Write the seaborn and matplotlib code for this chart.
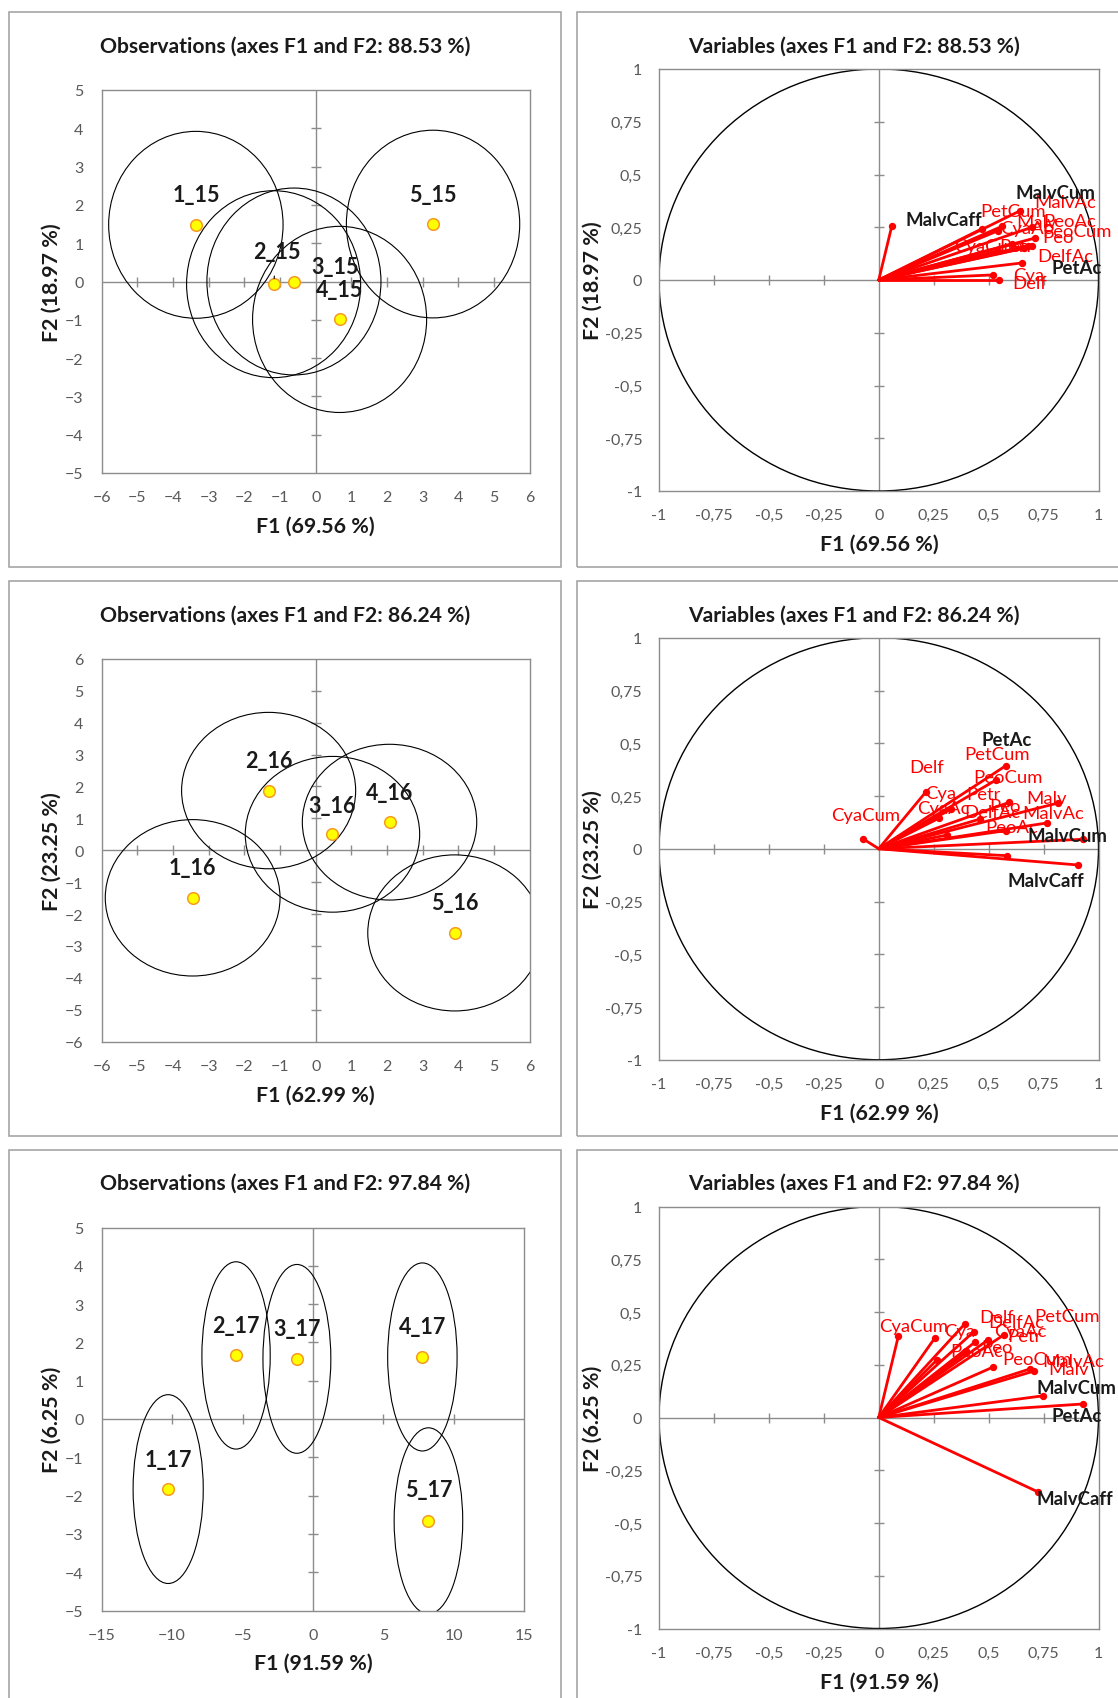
import numpy as np
import pandas as pd
import matplotlib
matplotlib.use("Agg")
import matplotlib.pyplot as plt
import seaborn as sns
from matplotlib.patches import Ellipse, Rectangle

sns.set_theme(style="white")
plt.rcParams["font.family"] = ["Lato", "DejaVu Sans"]

# ---------------- DATA ----------------
# Observations (PCA scores)
obs_15 = ["1_15", "2_15", "3_15", "4_15", "5_15"]
f1_15 = [-3.36, -1.18, -0.61, 0.67, 3.29]
f2_15 = [1.48, -0.07, 0.00, -0.99, 1.50]
ell_w_15 = [4.89, 4.88, 4.88, 4.88, 4.86]
ell_h_15 = [4.88, 4.88, 4.88, 4.86, 4.90]

obs_16 = ["1_16", "2_16", "3_16", "4_16", "5_16"]
f1_16 = [-3.45, -1.32, 0.47, 2.07, 3.90]
f2_16 = [-1.49, 1.87, 0.50, 0.88, -2.59]
ell_w_16 = [4.90, 4.88, 4.89, 4.89, 4.88]
ell_h_16 = [4.90, 4.90, 4.88, 4.88, 4.89]

obs_17 = ["1_17", "2_17", "3_17", "4_17", "5_17"]
f1_17 = [-10.28, -5.46, -1.14, 7.77, 8.20]
f2_17 = [-1.83, 1.66, 1.57, 1.62, -2.66]
ell_w_17 = [4.98, 4.85, 4.82, 4.93, 4.87]
ell_h_17 = [4.93, 4.89, 4.93, 4.91, 4.86]

# Variables (correlation circle loadings)
variables = ["Delf", "Cya", "Petr", "Peo", "Malv", "DelfAc", "CyaAc", "PetAc",
             "PeoAc", "MalvAc", "CyaCum", "PetCum", "PeoCum", "MalvCum", "MalvCaff"]
highlighted = ["PetAc", "MalvCum", "MalvCaff"]

v1_15 = [0.549, 0.518, 0.660, 0.605, 0.544, 0.653, 0.468, 0.696,
         0.711, 0.696, 0.544, 0.560, 0.681, 0.643, 0.059]
v2_15 = [0.000, 0.024, 0.150, 0.171, 0.234, 0.081, 0.242, 0.160,
         0.199, 0.250, 0.139, 0.254, 0.163, 0.328, 0.254]

v1_16 = [0.215, 0.276, 0.462, 0.580, 0.764, 0.330, 0.309, 0.579,
         0.585, 0.817, -0.070, 0.534, 0.594, 0.930, 0.908]
v2_16 = [0.270, 0.146, 0.141, 0.086, 0.122, 0.188, 0.065, 0.394,
         -0.033, 0.217, 0.046, 0.326, 0.220, 0.045, -0.077]

v1_17 = [0.391, 0.254, 0.499, 0.397, 0.706, 0.433, 0.440, 0.928,
         0.266, 0.688, 0.089, 0.570, 0.518, 0.749, 0.725]
v2_17 = [0.443, 0.375, 0.369, 0.309, 0.220, 0.407, 0.359, 0.064,
         0.274, 0.230, 0.385, 0.392, 0.238, 0.103, -0.353]

# Axis texts
titles_obs = ["Observations (axes F1 and F2: 88.53 %)",
              "Observations (axes F1 and F2: 86.24 %)",
              "Observations (axes F1 and F2: 97.84 %)"]
titles_var = ["Variables (axes F1 and F2: 88.53 %)",
              "Variables (axes F1 and F2: 86.24 %)",
              "Variables (axes F1 and F2: 97.84 %)"]
xlabels = ["F1 (69.56 %)", "F1 (62.99 %)", "F1 (91.59 %)"]
ylabels = ["F2 (18.97 %)", "F2 (23.25 %)", "F2 (6.25 %)"]

obs_xticks = [list(range(-6, 7)), list(range(-6, 7)), list(range(-15, 16, 5))]
obs_yticks = [list(range(-5, 6)), list(range(-6, 7)), list(range(-5, 6))]
var_ticks = [-1, -0.75, -0.5, -0.25, 0, 0.25, 0.5, 0.75, 1]
var_ticklabels = ["-1", "-0,75", "-0,5", "-0,25", "0", "0,25", "0,5", "0,75", "1"]

# ---------------- LAYOUT (pixels) ----------------
W, H = 1118, 1699
ROW = 568.75
PX2PT = 0.72

obs_label_off = [
    {"1_15": (0, 30), "2_15": (3, 33), "3_15": (41, 15), "4_15": (0, 30), "5_15": (0, 30)},
    {"1_16": (0, 30), "2_16": (0, 30), "3_16": (0, 29), "4_16": (0, 30), "5_16": (0, 30)},
    {"1_17": (0, 30), "2_17": (0, 30), "3_17": (0, 30), "4_17": (0, 30), "5_17": (0, 31)},
]
obs_leader = [["2_15"], [], []]

var_label_off = [
    {"MalvCaff": (51.6, 6.7), "MalvCum": (35, 18.5), "MalvAc": (33.3, 25), "Malv": (38.4, 8.3),
     "PeoAc": (35, 17.3), "CyaAc": (45, 0.6), "PetCum": (11.5, 15.7), "PeoCum": (48.3, 15),
     "Peo": (46.6, 6.6), "CyaCum": (-10, 4.4), "Petr": (-7, 2), "DelfAc": (42.7, 6.6),
     "PetAc": (45, -21), "Cya": (35.7, 0), "Delf": (30.6, -3)},
    {"CyaCum": (2.3, 24.3), "Delf": (0.7, 24.5), "Cya": (1.3, 24.9), "CyaAc": (-3.4, 26.7),
     "Petr": (3, 25), "DelfAc": (41.4, -3), "PetCum": (0.6, 25.9), "PetAc": (0.7, 26.6),
     "PeoCum": (-1, 25), "Peo": (-1.2, 24.3), "PeoAc": (4.4, 28.4), "Malv": (0, 24.7),
     "MalvAc": (-5, -10.4), "MalvCum": (-15.8, 3.5), "MalvCaff": (-32.6, -15.7)},
    {"CyaCum": (15, 10.6), "Cya": (25.4, 7.7), "Delf": (32, 6.7), "DelfAc": (42.8, 9.3),
     "PetCum": (62.7, 19.1), "CyaAc": (44.6, 11), "Petr": (35.6, 3.6), "Peo": (30.7, 5),
     "PeoAc": (39.5, 9), "PeoCum": (44.1, 8.3), "MalvAc": (43.4, 8.3), "Malv": (34.4, 2.1),
     "MalvCum": (33.4, 8.5), "PetAc": (-6, -11.7), "MalvCaff": (36.7, -6.7)},
]

GRAY = "#8c8c8c"
TICKC = "#595959"
FRAME = "#a6a6a6"
TXT = "#1a1a1a"


def fig_rect(x0, y0, w, h):
    return [x0 / W, 1 - (y0 + h) / H, w / W, h / H]


fig = plt.figure(figsize=(W / 100, H / 100), dpi=100)


def style_axes(ax, xt, yt, xtl=None, ytl=None, ypad=13):
    ax.set_xlim(xt[0], xt[-1])
    ax.set_ylim(yt[0], yt[-1])
    ax.set_xticks(xt)
    ax.set_yticks(yt)
    if xtl is not None:
        ax.set_xticklabels(xtl)
    if ytl is not None:
        ax.set_yticklabels(ytl)
    ax.tick_params(axis="both", length=0, labelsize=11.5, labelcolor=TICKC)
    ax.tick_params(axis="x", pad=12.5)
    ax.tick_params(axis="y", pad=ypad)
    for s in ax.spines.values():
        s.set_color(GRAY)
        s.set_linewidth(1)
    ax.axhline(0, color=GRAY, lw=1, zorder=1)
    ax.axvline(0, color=GRAY, lw=1, zorder=1)
    inner_x = [t for t in xt[1:-1] if t != 0]
    inner_y = [t for t in yt[1:-1] if t != 0]
    ax.plot(inner_x, [0] * len(inner_x), ls="none", marker="|", ms=7, mew=1, color=GRAY, zorder=1)
    ax.plot([0] * len(inner_y), inner_y, ls="none", marker="_", ms=7, mew=1, color=GRAY, zorder=1)
    ax.set_xlabel("")
    ax.set_ylabel("")


def frame(x0, y0, x1, y1):
    fig.add_artist(Rectangle((x0 / W, 1 - y1 / H), (x1 - x0) / W, (y1 - y0) / H,
                             transform=fig.transFigure, fill=False, ec=FRAME, lw=1.2))


obs_sets = [(obs_15, f1_15, f2_15, ell_w_15, ell_h_15),
            (obs_16, f1_16, f2_16, ell_w_16, ell_h_16),
            (obs_17, f1_17, f2_17, ell_w_17, ell_h_17)]
var_sets = [(v1_15, v2_15), (v1_16, v2_16), (v1_17, v2_17)]

for k in range(3):
    off = k * ROW
    # frames
    frame(8.7, 13 + off, 561, 568 + off if k < 2 else 1760)
    frame(577.4, 13 + off, 1160, 568 + off if k < 2 else 1760)

    # ---------- observations ----------
    names, f1, f2, ew, eh = obs_sets[k]
    left_w = 428 if k < 2 else 422.5
    ax = fig.add_axes(fig_rect(101.7, 91 + off, left_w, 383))
    style_axes(ax, obs_xticks[k], obs_yticks[k], ypad=13)
    for cx, cy, ww, hh in zip(f1, f2, ew, eh):
        ax.add_patch(Ellipse((cx, cy), ww, hh, fill=False, ec="black", lw=0.8, zorder=2))
    df = pd.DataFrame({"F1": f1, "F2": f2, "obs": names})
    sns.scatterplot(data=df, x="F1", y="F2", ax=ax, color="#FFFF00", edgecolor="#F59A23",
                    s=70, linewidth=1.1, zorder=5, legend=False)
    for n, x, y in zip(names, f1, f2):
        dx, dy = obs_label_off[k][n]
        kw = dict(xytext=(dx * PX2PT, dy * PX2PT), textcoords="offset points",
                  ha="center", va="center", fontsize=15.5, fontweight="bold", color=TXT, zorder=6)
        if n in obs_leader[k]:
            kw["arrowprops"] = dict(arrowstyle="-", color="black", lw=0.8, shrinkA=8, shrinkB=4)
        ax.annotate(n, (x, y), **kw)
    ax.set_xlabel("")
    ax.set_ylabel("")
    fig.text((101.7 + left_w / 2) / W, 1 - (526.5 + off) / H, xlabels[k], ha="center", va="center",
             fontsize=15.4, fontweight="bold", color=TXT)
    fig.text(52 / W, 1 - (282.6 + off) / H, ylabels[k], ha="center", va="center", rotation=90,
             fontsize=15.4, fontweight="bold", color=TXT)
    fig.text(285 / W, 1 - (46.6 + off) / H, titles_obs[k], ha="center", va="center",
             fontsize=15.2, fontweight="bold", color=TXT)

    # ---------- variables ----------
    v1, v2 = var_sets[k]
    axv = fig.add_axes(fig_rect(659, 70 + off, 439.5, 422))
    style_axes(axv, var_ticks, var_ticks, var_ticklabels, var_ticklabels, ypad=12)
    axv.add_patch(Ellipse((0, 0), 2, 2, fill=False, ec="black", lw=1, zorder=2))
    rows = []
    for n, x, y in zip(variables, v1, v2):
        rows.append({"F1": 0.0, "F2": 0.0, "var": n})
        rows.append({"F1": x, "F2": y, "var": n})
    long = pd.DataFrame(rows)
    sns.lineplot(data=long, x="F1", y="F2", units="var", estimator=None, sort=False,
                 color="#ff0000", lw=2, ax=axv, legend=False, zorder=3)
    dfv = pd.DataFrame({"F1": v1, "F2": v2, "var": variables})
    sns.scatterplot(data=dfv, x="F1", y="F2", ax=axv, color="#ff0000", edgecolor="#ff0000",
                    s=28, linewidth=0, zorder=4, legend=False)
    for n, x, y in zip(variables, v1, v2):
        dx, dy = var_label_off[k][n]
        if n in highlighted:
            axv.annotate(n, (x, y), xytext=(dx * PX2PT, dy * PX2PT), textcoords="offset points",
                         ha="center", va="center", fontsize=13.4, fontweight="bold", color=TXT,
                         zorder=6, annotation_clip=False)
        else:
            axv.annotate(n, (x, y), xytext=(dx * PX2PT, dy * PX2PT), textcoords="offset points",
                         ha="center", va="center", fontsize=13.3, color="#ff0000",
                         zorder=6, annotation_clip=False)
    axv.set_xlabel("")
    axv.set_ylabel("")
    fig.text(879.6 / W, 1 - (545 + off) / H, xlabels[k], ha="center", va="center",
             fontsize=15.4, fontweight="bold", color=TXT)
    fig.text(592.6 / W, 1 - (281 + off) / H, ylabels[k], ha="center", va="center", rotation=90,
             fontsize=15.4, fontweight="bold", color=TXT)
    fig.text(853.6 / W, 1 - (46.6 + off) / H, titles_var[k], ha="center", va="center",
             fontsize=15.2, fontweight="bold", color=TXT)

fig.savefig("out.png", dpi=100, facecolor="white")
